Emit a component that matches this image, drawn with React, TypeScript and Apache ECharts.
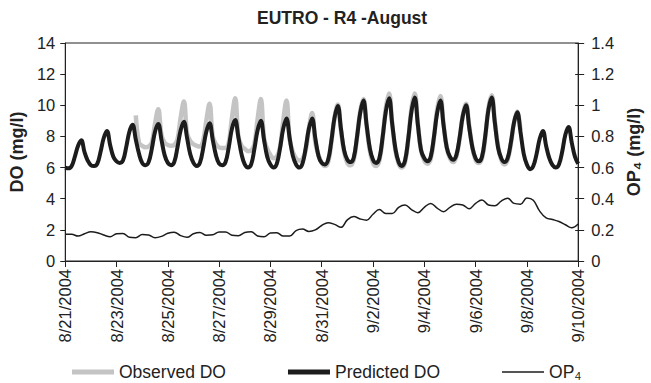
import React, { useEffect, useRef } from "react";
import * as echarts from "echarts";

const FONT = '"Liberation Sans", Arial, Helvetica, sans-serif';

const titleText = "EUTRO - R4 -August";
const xTickLabels = [
  "8/21/2004", "8/23/2004", "8/25/2004", "8/27/2004", "8/29/2004", "8/31/2004",
  "9/2/2004", "9/4/2004", "9/6/2004", "9/8/2004", "9/10/2004",
];

// DO series sampled every 3 hours starting 8/21/2004 00:00
const DO_STEP_DAYS = 0.125;
const predictedDO = [
  6.0, 5.95, 6.1, 6.7, 7.4, 7.75, 7.0, 6.45,
  6.15, 6.1, 6.25, 7.0, 7.9, 8.35, 7.45, 6.7,
  6.4, 6.3, 6.45, 7.3, 8.3, 8.75, 7.8, 6.9,
  6.3, 6.15, 6.35, 7.2, 8.3, 8.8, 7.8, 6.8,
  6.3, 6.15, 6.35, 7.3, 8.4, 8.95, 7.9, 6.85,
  6.3, 6.1, 6.3, 7.2, 8.3, 8.85, 7.8, 6.8,
  6.25, 6.15, 6.35, 7.3, 8.5, 9.05, 7.95, 6.85,
  6.2, 6.0, 6.2, 7.2, 8.4, 9.0, 7.8, 6.7,
  6.2, 6.0, 6.25, 7.25, 8.5, 9.15, 7.9, 6.75,
  6.2, 6.0, 6.25, 7.25, 8.5, 9.15, 7.9, 6.75,
  6.3, 6.2, 6.5, 7.7, 9.2, 9.95, 8.5, 7.1,
  6.5, 6.35, 6.65, 7.95, 9.5, 10.3, 8.75, 7.25,
  6.5, 6.3, 6.6, 7.95, 9.6, 10.45, 8.8, 7.2,
  6.35, 6.1, 6.45, 7.85, 9.6, 10.5, 8.75, 7.1,
  6.6, 6.4, 6.7, 7.95, 9.5, 10.3, 8.75, 7.3,
  6.7, 6.5, 6.8, 7.9, 9.3, 10.0, 8.6, 7.3,
  6.6, 6.4, 6.7, 8.0, 9.7, 10.5, 8.9, 7.3,
  6.6, 6.35, 6.6, 7.6, 8.9, 9.55, 8.3, 6.9,
  6.2, 5.9, 6.1, 6.85, 7.85, 8.35, 7.4, 6.6,
  6.15, 6.0, 6.2, 7.0, 8.1, 8.6, 7.6, 6.7,
  6.25,
];

// Observed DO begins 8/23/2004 18:00 (step 22)
const OBSERVED_START_STEP = 22;
const observedDO = [
  9.35, 7.6,
  7.4, 7.3, 7.35, 7.6, 8.8, 9.75, 8.1, 7.6,
  7.45, 7.4, 7.45, 7.8, 9.2, 10.25, 8.2, 7.7,
  7.5, 7.4, 7.35, 7.7, 9.0, 10.1, 8.0, 7.5,
  7.3, 7.25, 7.25, 7.6, 9.2, 10.45, 8.0, 7.4,
  7.2, 7.05, 7.1, 7.5, 9.1, 10.4, 7.9, 7.2,
  6.8, 6.6, 6.7, 7.3, 9.0, 10.3, 7.8, 7.0,
  6.6, 6.45, 6.55, 7.1, 8.5, 9.5, 7.6, 6.8,
  6.3, 6.1, 6.35, 7.6, 9.2, 10.05, 8.4, 7.0,
  6.3, 6.15, 6.5, 7.9, 9.6, 10.4, 8.7, 7.1,
  6.3, 6.1, 6.45, 7.9, 9.8, 10.75, 8.8, 7.1,
  6.25, 6.0, 6.35, 7.8, 9.8, 10.75, 8.8, 7.1,
  6.45, 6.25, 6.55, 7.9, 9.7, 10.6, 8.8, 7.3,
  6.6, 6.35, 6.7, 7.8, 9.3, 10.1, 8.7, 7.3,
  6.5, 6.3, 6.6, 7.9, 9.8, 10.65, 9.0, 7.4,
  6.5, 6.2, 6.5, 7.5, 8.9, 9.6, 8.4,
];

// OP4 sampled every 6 hours starting 8/21/2004 00:00
const OP4_STEP_DAYS = 0.25;
const op4 = [
  0.171, 0.171, 0.16, 0.175, 0.188, 0.182, 0.167, 0.156, 0.175, 0.177,
  0.152, 0.15, 0.17, 0.167, 0.15, 0.158, 0.178, 0.185, 0.163, 0.152,
  0.175, 0.183, 0.165, 0.168, 0.187, 0.187, 0.165, 0.162, 0.183, 0.188,
  0.16, 0.155, 0.18, 0.182, 0.16, 0.16, 0.195, 0.205, 0.19, 0.2,
  0.228, 0.246, 0.235, 0.216, 0.264, 0.285, 0.27, 0.262, 0.3, 0.33,
  0.305, 0.305, 0.345, 0.36, 0.33, 0.31, 0.345, 0.37, 0.34, 0.317,
  0.345, 0.364, 0.36, 0.335, 0.37, 0.392, 0.36, 0.355, 0.385, 0.403,
  0.37, 0.365, 0.405, 0.39, 0.32, 0.277, 0.266, 0.254, 0.233, 0.214,
  0.238,
];

const seriesNames = ["Observed DO", "Predicted DO", "OP₄"];

export default function App() {
  const ref = useRef<HTMLDivElement>(null);

  useEffect(() => {
    document.body.style.margin = "0";
    if (!ref.current) return;
    const chart = echarts.init(ref.current, undefined, { renderer: "svg" });

    const predPairs = predictedDO.map((v, i) => [i * DO_STEP_DAYS, v]);
    const obsPairs = observedDO.map((v, i) => [(i + OBSERVED_START_STEP) * DO_STEP_DAYS, v]);
    const opPairs = op4.map((v, i) => [i * OP4_STEP_DAYS, v]);

    const labelStyle = { fontFamily: FONT, fontSize: 16.5, color: "#222" };

    chart.setOption({
      animation: false,
      backgroundColor: "#fff",
      title: {
        text: titleText,
        left: 257,
        top: 9,
        padding: 0,
        textStyle: { fontFamily: FONT, fontSize: 17.5, fontWeight: "bold", color: "#222" },
      },
      legend: {
        left: 72,
        top: 363,
        itemWidth: 42,
        itemHeight: 14,
        itemGap: 62,
        padding: 0,
        textStyle: { fontFamily: FONT, fontSize: 17.5, color: "#222" },
        data: [
          { name: seriesNames[0], icon: "path://M0 0H42V5H0Z" },
          { name: seriesNames[1], icon: "path://M0 0H42V5H0Z" },
          { name: seriesNames[2], icon: "path://M0 0H42V1.5H0Z" },
        ],
      },
      grid: {
        left: 65,
        right: 59,
        top: 43,
        bottom: 122,
        show: true,
        borderColor: "#222",
        borderWidth: 1,
        backgroundColor: "transparent",
      },
      xAxis: {
        type: "value",
        min: 0,
        max: 20,
        interval: 2,
        splitLine: { show: false },
        axisLine: { lineStyle: { color: "#222", width: 1 } },
        axisTick: { inside: false, length: 6, lineStyle: { color: "#222" } },
        axisLabel: {
          ...labelStyle,
          rotate: 90,
          margin: 8,
          formatter: (v: number) => xTickLabels[Math.round(v / 2)] ?? "",
        },
      },
      yAxis: [
        {
          type: "value",
          position: "left",
          min: 0,
          max: 14,
          interval: 2,
          name: "DO (mg/l)",
          nameLocation: "middle",
          nameRotate: 90,
          nameGap: 38,
          nameTextStyle: { fontFamily: FONT, fontSize: 18, fontWeight: "bold", color: "#222" },
          splitLine: { show: false },
          axisLine: { show: true, lineStyle: { color: "#222", width: 1 } },
          axisTick: { show: true, inside: false, length: 5, lineStyle: { color: "#222" } },
          axisLabel: { ...labelStyle, margin: 10 },
        },
        {
          type: "value",
          position: "right",
          min: 0,
          max: 1.4,
          interval: 0.2,
          name: "OP₄ (mg/l)",
          nameLocation: "middle",
          nameRotate: 90,
          nameGap: 40,
          nameTextStyle: { fontFamily: FONT, fontSize: 18, fontWeight: "bold", color: "#222" },
          splitLine: { show: false },
          axisLine: { show: true, lineStyle: { color: "#222", width: 1 } },
          axisTick: { show: true, inside: false, length: 6, lineStyle: { color: "#222" } },
          axisLabel: {
            ...labelStyle,
            margin: 13,
            formatter: (v: number) => String(+v.toFixed(1)),
          },
        },
        {
          type: "value",
          position: "right",
          min: 0,
          max: 1.4,
          interval: 0.2,
          splitLine: { show: false },
          axisLine: { show: false },
          axisLabel: { show: false },
          axisTick: { show: true, inside: true, length: 3, lineStyle: { color: "#222" } },
        },
      ],
      series: [
        {
          name: seriesNames[0],
          type: "line",
          yAxisIndex: 0,
          data: obsPairs,
          smooth: 0.4,
          showSymbol: false,
          symbol: "none",
          color: "#c4c4c4",
          itemStyle: { color: "#c4c4c4" },
          lineStyle: { color: "#c4c4c4", width: 4.5 },
          z: 1,
        },
        {
          name: seriesNames[1],
          type: "line",
          yAxisIndex: 0,
          data: predPairs,
          smooth: 0.4,
          showSymbol: false,
          symbol: "none",
          color: "#1c1c1c",
          itemStyle: { color: "#1c1c1c" },
          lineStyle: { color: "#1c1c1c", width: 4 },
          z: 2,
        },
        {
          name: seriesNames[2],
          type: "line",
          yAxisIndex: 1,
          data: opPairs,
          smooth: 0.4,
          showSymbol: false,
          symbol: "none",
          color: "#1c1c1c",
          itemStyle: { color: "#1c1c1c" },
          lineStyle: { color: "#1c1c1c", width: 1.5 },
          z: 3,
        },
      ],
    });

    return () => chart.dispose();
  }, []);

  return <div ref={ref} style={{ width: 651, height: 383 }} />;
}
